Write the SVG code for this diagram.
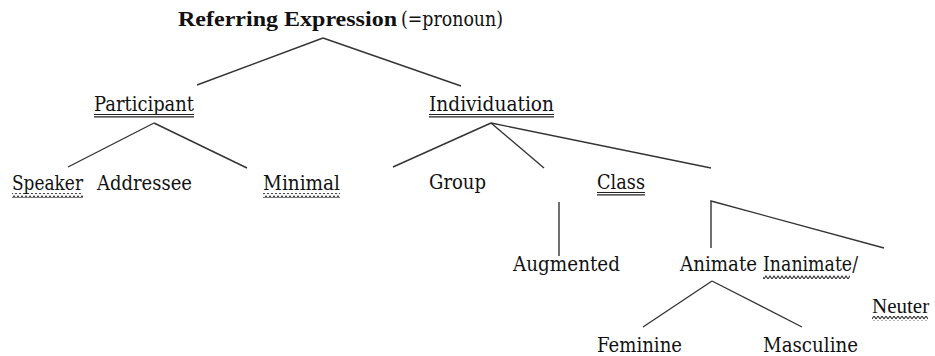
<svg xmlns="http://www.w3.org/2000/svg" width="935" height="356" viewBox="0 0 935 356">
<style>
text{font-family:"DejaVu Serif",serif;font-size:21px;fill:#111}
.b{font-family:"Liberation Serif",serif;font-weight:bold;font-size:22px}
.n{font-family:"Liberation Serif",serif;font-size:21px}
.ul{stroke:#222;stroke-width:1.2}
.con line{stroke:#333;stroke-width:1.4;fill:none}
.con path{stroke:#333;stroke-width:1.4;fill:none}
</style>
<defs>
<pattern id="wavy" patternUnits="userSpaceOnUse" width="4" height="5">
<path d="M0,4 L2,1 L4,4" stroke="#333" stroke-width="1.1" fill="none"/>
</pattern>
</defs>
<rect width="935" height="356" fill="#fff"/>
<g class="con" id="connectors">
<line x1="323" y1="38" x2="197" y2="85"/>
<line x1="323" y1="38" x2="461" y2="86"/>
<line x1="154" y1="123" x2="68" y2="167"/>
<line x1="154" y1="123" x2="247" y2="168"/>
<line x1="491" y1="123" x2="393" y2="167"/>
<line x1="491" y1="123" x2="544" y2="168"/>
<line x1="491" y1="123" x2="711" y2="168"/>
<line x1="559" y1="202" x2="559" y2="256"/>
<path d="M711,248 L711,201 L884,248"/>
<line x1="712" y1="281" x2="643" y2="327"/>
<line x1="712" y1="281" x2="802" y2="327"/>
</g>
<g id="node-root">
<text class="b" x="178" y="26" textLength="219" lengthAdjust="spacingAndGlyphs">Referring Expression</text>
<text x="401" y="26" textLength="102" lengthAdjust="spacingAndGlyphs">(=pronoun)</text>
</g>
<g id="node-participant">
<text x="94" y="111" textLength="100" lengthAdjust="spacingAndGlyphs">Participant</text>
<line class="ul" x1="94" y1="114.5" x2="194" y2="114.5"/>
<line class="ul" x1="94" y1="116.8" x2="194" y2="116.8"/>
</g>
<g id="node-individuation">
<text x="429" y="111" textLength="125" lengthAdjust="spacingAndGlyphs">Individuation</text>
<line class="ul" x1="429" y1="114.5" x2="554" y2="114.5"/>
<line class="ul" x1="429" y1="116.8" x2="554" y2="116.8"/>
</g>
<g id="node-speaker">
<text x="12" y="190" textLength="71" lengthAdjust="spacingAndGlyphs">Speaker</text>
<rect x="12" y="193" width="71" height="5" fill="url(#wavy)"/>
</g>
<g id="node-addressee">
<text x="97" y="190" textLength="95" lengthAdjust="spacingAndGlyphs">Addressee</text>
</g>
<g id="node-minimal">
<text x="263" y="190" textLength="77" lengthAdjust="spacingAndGlyphs">Minimal</text>
<rect x="263" y="193" width="77" height="5" fill="url(#wavy)"/>
</g>
<g id="node-group">
<text x="429" y="189" textLength="57" lengthAdjust="spacingAndGlyphs">Group</text>
</g>
<g id="node-class">
<text x="597" y="189" textLength="48" lengthAdjust="spacingAndGlyphs">Class</text>
<line class="ul" x1="597" y1="192.5" x2="645" y2="192.5"/>
<line class="ul" x1="597" y1="194.8" x2="645" y2="194.8"/>
</g>
<g id="node-augmented">
<text x="513" y="271" textLength="107" lengthAdjust="spacingAndGlyphs">Augmented</text>
</g>
<g id="node-animate">
<text x="680" y="271" textLength="77" lengthAdjust="spacingAndGlyphs">Animate</text>
</g>
<g id="node-inanimate">
<text x="763" y="271" textLength="95" lengthAdjust="spacingAndGlyphs">Inanimate/</text>
<rect x="763" y="274" width="87" height="5" fill="url(#wavy)"/>
<text class="n" x="872" y="313">Neuter</text>
<rect x="872" y="316" width="56" height="5" fill="url(#wavy)"/>
</g>
<g id="node-feminine">
<text x="597" y="352" textLength="85" lengthAdjust="spacingAndGlyphs">Feminine</text>
</g>
<g id="node-masculine">
<text x="763" y="352" textLength="95" lengthAdjust="spacingAndGlyphs">Masculine</text>
</g>
</svg>
